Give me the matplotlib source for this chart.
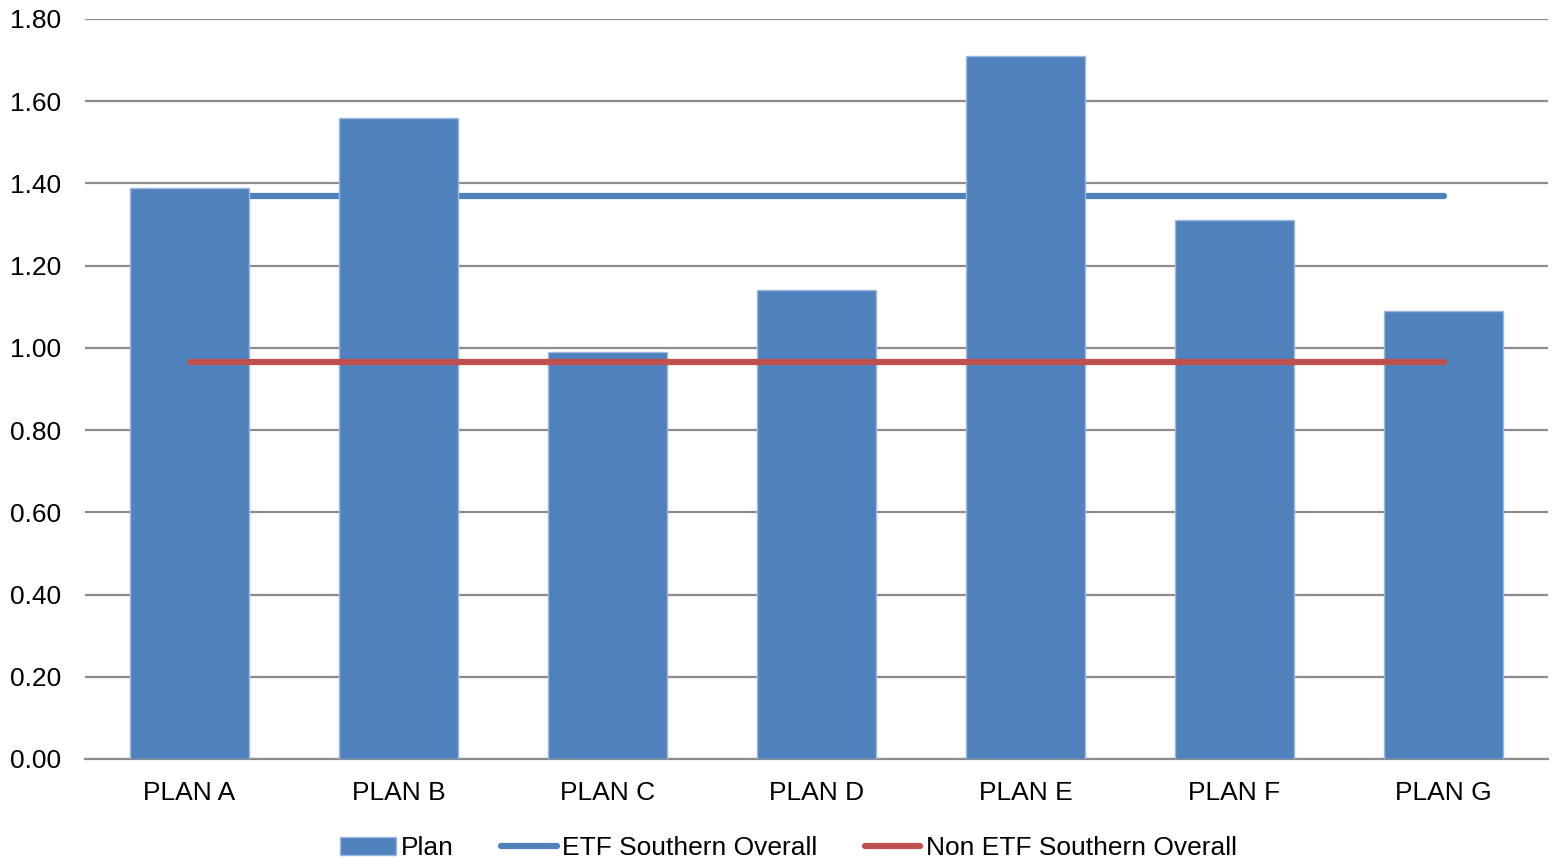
import matplotlib.pyplot as plt
import numpy as np

plt.rcParams["font.family"] = ["Liberation Sans", "DejaVu Sans"]

plans = ["PLAN A", "PLAN B", "PLAN C", "PLAN D", "PLAN E", "PLAN F", "PLAN G"]
plan_vals = [1.39, 1.56, 0.99, 1.14, 1.71, 1.31, 1.09]
etf_overall = [1.37] * len(plans)
non_etf_overall = [0.965] * len(plans)

fig = plt.figure(figsize=(15.52, 8.59), dpi=100)
ax = fig.add_axes([85 / 1552, 1 - 759 / 859, (1548 - 85) / 1552, (759 - 19) / 859])

x = np.arange(len(plans))
# ETF line sits behind the bars, Non ETF line in front
ax.plot(x, etf_overall, color="#4F81BD", lw=4.5, solid_capstyle="round",
        label="ETF Southern Overall", zorder=2)
ax.plot(x, non_etf_overall, color="#C0504D", lw=4.5, solid_capstyle="round",
        label="Non ETF Southern Overall", zorder=4)
ax.bar(x, plan_vals, width=0.57, color="#4F81BD", edgecolor="#9DB9DE",
       linewidth=1, label="Plan", zorder=3)

ax.set_xlim(-0.5, len(plans) - 0.5)
ax.set_ylim(0, 1.8)
ticks = np.arange(0, 1.81, 0.2)
ax.set_yticks(ticks)
ax.set_yticklabels([f"{v:.2f}" for v in ticks])
ax.set_xticks(x)
ax.set_xticklabels(plans)
ax.tick_params(axis="both", length=0, labelsize=19)
ax.tick_params(axis="y", pad=17)
ax.tick_params(axis="x", pad=16)
ax.grid(axis="y", color="#8C8C8C", lw=1.6, zorder=0)
ax.set_axisbelow(True)
for s in ["top", "right", "left"]:
    ax.spines[s].set_visible(False)
ax.spines["bottom"].set_color("#8C8C8C")
ax.spines["bottom"].set_linewidth(1.6)

handles, labels = ax.get_legend_handles_labels()
order = [2, 0, 1]
fig.legend([handles[i] for i in order], [labels[i] for i in order],
           loc="center", bbox_to_anchor=(0.508, 1 - 848 / 859), ncol=3,
           frameon=False, fontsize=19, handlelength=2.1, handletextpad=0.2,
           columnspacing=1.8)

fig.savefig("out.png", dpi=100)
